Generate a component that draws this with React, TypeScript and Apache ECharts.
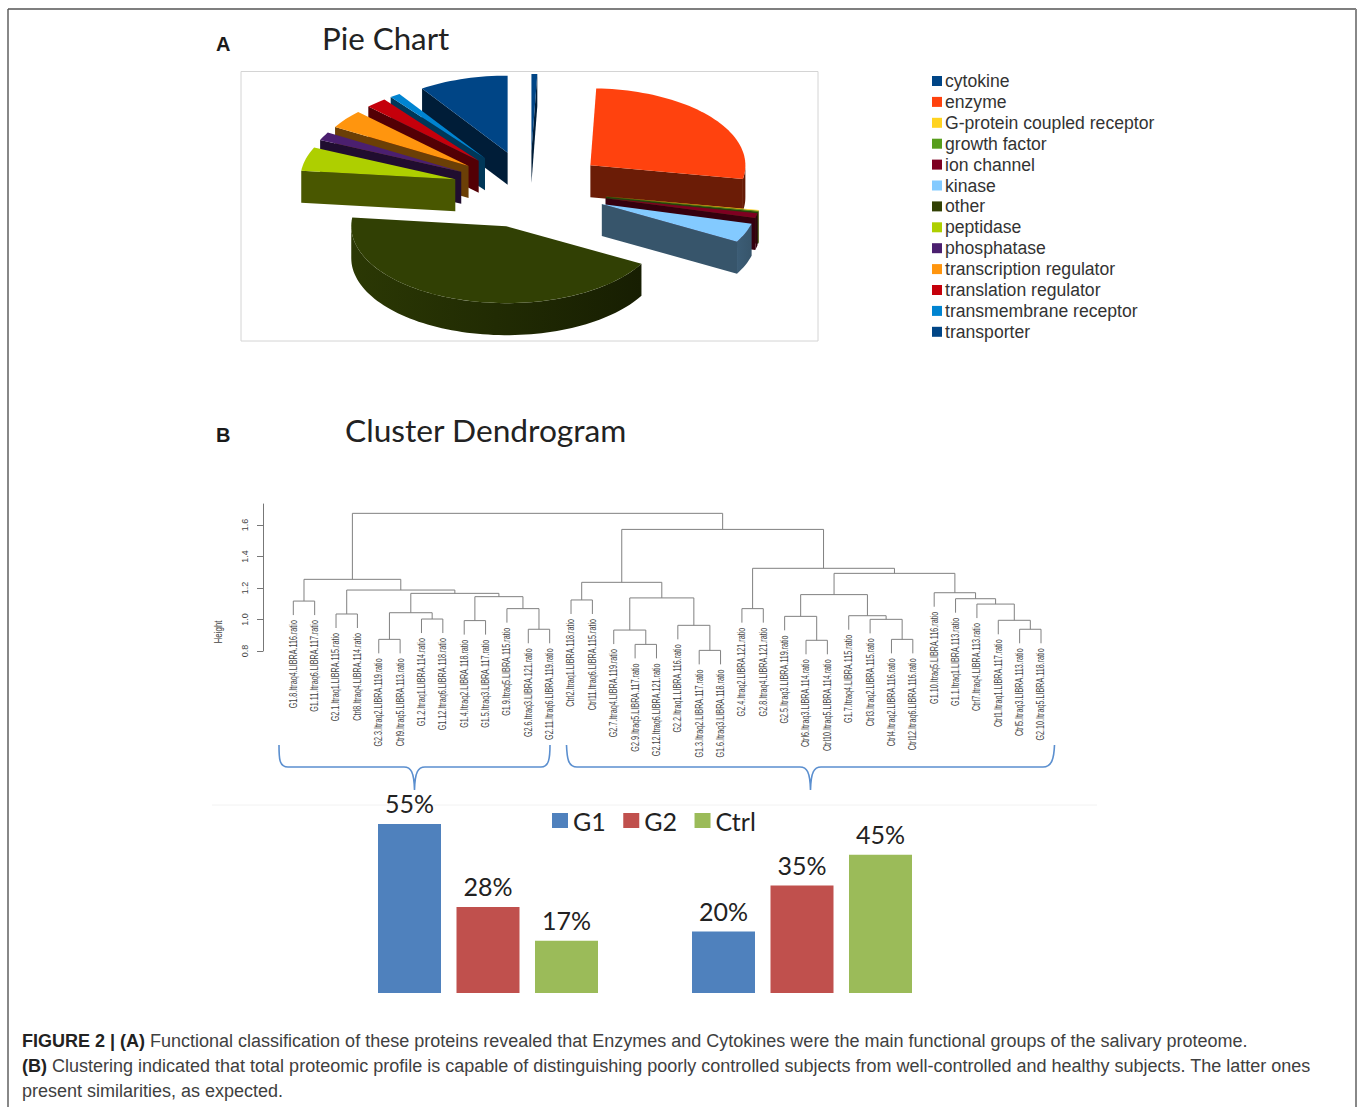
import React, { useEffect, useRef } from "react";
import * as echarts from "echarts";

// ---------- Panel A data ----------
const pieNames = ["cytokine", "enzyme", "G-protein coupled receptor", "growth factor", "ion channel", "kinase", "other", "peptidase", "phosphatase", "transcription regulator", "translation regulator", "transmembrane receptor", "transporter"];
const pieValues = [0.6, 27.2, 0.12, 0.18, 1.0, 4.0, 43.6, 5.0, 1.7, 3.9, 2.2, 1.1, 9.3];
const pieColors = ["#004586", "#ff420e", "#ffd320", "#579d1c", "#7e0021", "#83caff", "#314004", "#aecf00", "#4b1f6f", "#ff950e", "#c5000b", "#0084d1", "#004586"];

// ---------- Panel B dendrogram data (merge table, R hclust style) ----------
const leafLabels = [
  "G1.8.Itraq4.LIBRA.116.ratio", "G1.11.Itraq6.LIBRA.117.ratio", "G2.1.Itraq1.LIBRA.115.ratio", "Ctrl8.Itraq4.LIBRA.114.ratio",
  "G2.3.Itraq2.LIBRA.119.ratio", "Ctrl9.Itraq5.LIBRA.113.ratio", "G1.2.Itraq1.LIBRA.114.ratio", "G1.12.Itraq6.LIBRA.118.ratio",
  "G1.4.Itraq2.LIBRA.118.ratio", "G1.5.Itraq3.LIBRA.117.ratio", "G1.9.Itraq5.LIBRA.115.ratio", "G2.6.Itraq3.LIBRA.121.ratio",
  "G2.11.Itraq6.LIBRA.119.ratio", "Ctrl2.Itraq1.LIBRA.118.ratio", "Ctrl11.Itraq6.LIBRA.115.ratio", "G2.7.Itraq4.LIBRA.119.ratio",
  "G2.9.Itraq5.LIBRA.117.ratio", "G2.12.Itraq6.LIBRA.121.ratio", "G2.2.Itraq1.LIBRA.116.ratio", "G1.3.Itraq2.LIBRA.117.ratio",
  "G1.6.Itraq3.LIBRA.118.ratio", "G2.4.Itraq2.LIBRA.121.ratio", "G2.8.Itraq4.LIBRA.121.ratio", "G2.5.Itraq3.LIBRA.119.ratio",
  "Ctrl6.Itraq3.LIBRA.114.ratio", "Ctrl10.Itraq5.LIBRA.114.ratio", "G1.7.Itraq4.LIBRA.115.ratio", "Ctrl3.Itraq2.LIBRA.115.ratio",
  "Ctrl4.Itraq2.LIBRA.116.ratio", "Ctrl12.Itraq6.LIBRA.116.ratio", "G1.10.Itraq5.LIBRA.116.ratio", "G1.1.Itraq1.LIBRA.113.ratio",
  "Ctrl7.Itraq4.LIBRA.113.ratio", "Ctrl1.Itraq1.LIBRA.117.ratio", "Ctrl5.Itraq3.LIBRA.113.ratio", "G2.10.Itraq5.LIBRA.118.ratio",
];
const mergeLeft = [-1, -3, -5, -7, 3, -9, -12, -11, 6, 5, 2, 1, -14, -17, -16, -20, -19, 15, 13, -22, -25, -24, -29, -28, -27, 22, -35, -34, -33, -32, -31, 26, 20, 19, 12];
const mergeRight = [-2, -4, -6, -8, 4, -10, -13, 7, 8, 9, 10, 11, -15, -18, 14, -21, 16, 17, 18, -23, -26, 21, -30, 23, 24, 25, -36, 27, 28, 29, 30, 31, 32, 33, 34];
const mergeHeight = [1.117, 1.035, 0.874, 1.003, 1.043, 0.993, 0.938, 1.069, 1.145, 1.166, 1.187, 1.255, 1.124, 0.842, 0.933, 0.804, 0.963, 1.137, 1.236, 1.069, 0.868, 1.02, 0.874, 1.001, 1.024, 1.158, 0.938, 0.995, 1.098, 1.132, 1.17, 1.293, 1.325, 1.572, 1.674];
const heightTicks = [0.8, 1.0, 1.2, 1.4, 1.6];

// ---------- Panel B bar data ----------
const groupCategories = ["cluster 1", "cluster 2"];
const barG1 = [55, 20];
const barG2 = [28, 35];
const barCtrl = [17, 45];

// ---------- caption ----------
const captionLines = [
  "{b|FIGURE 2 | (A)} Functional classification of these proteins revealed that Enzymes and Cytokines were the main functional groups of the salivary proteome.",
  "{b|(B)} Clustering indicated that total proteomic profile is capable of distinguishing poorly controlled subjects from well-controlled and healthy subjects. The latter ones",
  "present similarities, as expected.",
];

// ---------- layout ----------
const PIE = { cx: 530, cy: 189.5, rx: 155, ry: 77, depth: 32, explode: 0.5 };
const HANG = 0.089;

echarts.graphic.registerShape("braceLeft", echarts.graphic.extendPath("M279 745 C279 758 279 767 288 767 L404 767 C411 767 414 772 414.5 790 C415 772 418 767 425 767 L541 767 C549 767 550 758 550 745", {}));
echarts.graphic.registerShape("braceRight", echarts.graphic.extendPath("M566.5 745 C567 758 568 767 577 767 L800 767 C807 767 810 772 810.5 790 C811 772 814 767 821 767 L1043 767 C1052 767 1054 758 1054.5 745", {}));

function shade(hex: string, k: number) {
  const n = parseInt(hex.slice(1), 16);
  const ch = (v: number) => Math.round(v * k);
  return `rgb(${ch((n >> 16) & 255)},${ch((n >> 8) & 255)},${ch(n & 255)})`;
}

const rad = (d: number) => (d * Math.PI) / 180;

function buildSlices() {
  const total = pieValues.reduce((a, b) => a + b, 0);
  let acc = 0;
  const out = pieValues.map((v, i) => {
    const a = (acc / total) * 360;
    acc += v;
    const b = (acc / total) * 360;
    const m = rad((a + b) / 2);
    const ax = PIE.cx + PIE.explode * PIE.rx * Math.sin(m);
    const ay = PIE.cy - PIE.explode * PIE.ry * Math.cos(m);
    return { i, a, b, ax, ay };
  });
  return out.sort((p, q) => p.ay - q.ay);
}

function sliceItem(s: any) {
  const color = pieColors[s.i];
  const side = shade(color, 0.42);
  const pt = (deg: number): number[] => [s.ax + PIE.rx * Math.sin(rad(deg)), s.ay - PIE.ry * Math.cos(rad(deg))];
  const arc = (from: number, to: number) => {
    const n = Math.max(2, Math.ceil((to - from) / 2));
    const pts: number[][] = [];
    for (let k = 0; k <= n; k++) pts.push(pt(from + ((to - from) * k) / n));
    return pts;
  };
  const A = [s.ax, s.ay];
  const mid = pt((s.a + s.b) / 2);
  const children: any[] = [];
  const wall = (P: number[]) => {
    const nx = -(P[1] - A[1]);
    const ny = P[0] - A[0];
    const d = nx * (mid[0] - A[0]) + ny * (mid[1] - A[1]);
    const outY = d > 0 ? -ny : ny;
    if (outY <= 0) return;
    children.push({
      type: "polygon",
      shape: { points: [A, P, [P[0], P[1] + PIE.depth], [A[0], A[1] + PIE.depth]] },
      style: { fill: side },
    });
  };
  wall(pt(s.a));
  wall(pt(s.b));
  const from = Math.max(s.a, 90);
  const to = Math.min(s.b, 270);
  if (to > from) {
    const top = arc(from, to);
    const bottom = top.map((p) => [p[0], p[1] + PIE.depth]).reverse();
    const k = (deg: number) => 0.38 + ((deg - 90) / 180) * 0.5;
    children.push({
      type: "polygon",
      shape: { points: top.concat(bottom) },
      style: { fill: new echarts.graphic.LinearGradient(0, 0, 1, 0, [{ offset: 0, color: shade(color, k(to)) }, { offset: 1, color: shade(color, k(from)) }]) },
    });
  }
  children.push({ type: "polygon", shape: { points: [A, ...arc(s.a, s.b)] }, style: { fill: color } });
  return { type: "group", children };
}

function buildTree() {
  const nodeX: number[] = [];
  const xOf = (id: number) => (id < 0 ? -id - 1 : nodeX[id - 1]);
  const hOf = (id: number, parent: number) => (id < 0 ? parent - HANG : mergeHeight[id - 1]);
  const rows: number[][] = [];
  mergeHeight.forEach((h, i) => {
    const xl = xOf(mergeLeft[i]);
    const xr = xOf(mergeRight[i]);
    nodeX.push((xl + xr) / 2);
    rows.push([xl, xr, h, hOf(mergeLeft[i], h), hOf(mergeRight[i], h)]);
  });
  const leafParent: number[] = leafLabels.map(() => 0);
  mergeHeight.forEach((h, i) => {
    if (mergeLeft[i] < 0) leafParent[-mergeLeft[i] - 1] = h;
    if (mergeRight[i] < 0) leafParent[-mergeRight[i] - 1] = h;
  });
  return { rows, leaves: leafParent.map((h, i) => [i, h - HANG]) };
}

export default function App() {
  const ref = useRef<HTMLDivElement>(null);
  useEffect(() => {
    document.body.style.margin = "0";
    const chart = echarts.init(ref.current!, undefined, { renderer: "svg" });
    const tree = buildTree();
    const sansBody = "Liberation Sans";
    const pieSeries = buildSlices().map((s) => ({
      type: "custom",
      name: pieNames[s.i],
      coordinateSystem: "none",
      silent: true,
      itemStyle: { color: pieColors[s.i] },
      data: [[pieValues[s.i]]],
      renderItem: () => sliceItem(s),
    }));
    const barLabel = { show: true, position: "top", distance: 8, formatter: "{c}%", fontFamily: "Lato", fontSize: 25, color: "#222" };
    chart.setOption({
      animation: false,
      backgroundColor: "#fff",
      title: [
        { text: "Pie Chart", left: 317, top: 17, textStyle: { fontFamily: "Lato", fontWeight: "normal", fontSize: 31.3, color: "#222" } },
        { text: "Cluster Dendrogram", left: 340, top: 409, textStyle: { fontFamily: "Lato", fontWeight: "normal", fontSize: 31.7, color: "#222" } },
      ],
      legend: [
        {
          data: pieNames, orient: "vertical", left: 927, top: 67, icon: "rect", itemWidth: 10, itemHeight: 10, itemGap: 2.9, selectedMode: false,
          textStyle: { fontFamily: sansBody, fontSize: 17.6, color: "#333", padding: [0, 0, 0, -2] },
        },
        {
          data: ["G1", "G2", "Ctrl"], orient: "horizontal", left: 547, top: 803, icon: "rect", itemWidth: 16, itemHeight: 15, itemGap: 17.5, selectedMode: false,
          textStyle: { fontFamily: "Lato", fontSize: 25, color: "#222" },
        },
      ],
      grid: [
        { left: 263, top: 504, width: 1041 - 263, height: 147 },
        { left: 331, top: 808.5, width: 628, height: 184.5 },
      ],
      xAxis: [
        { type: "value", gridIndex: 0, min: -1.4185, max: 35, show: false },
        { type: "category", gridIndex: 1, data: groupCategories, show: false },
      ],
      yAxis: [
        {
          type: "value", gridIndex: 0, min: 0.8, max: 1.7333, splitLine: { show: false },
          axisLine: { show: true, onZero: false, lineStyle: { color: "#777", width: 1 } },
          axisTick: { show: true, length: 6, customValues: heightTicks, lineStyle: { color: "#777" } },
          axisLabel: { show: true, customValues: heightTicks, rotate: 90, margin: 14, fontFamily: sansBody, fontSize: 9, color: "#444", formatter: (v: number) => v.toFixed(1) },
        },
        { type: "value", gridIndex: 1, min: 0, max: 60, show: false },
      ],
      series: [
        ...pieSeries,
        {
          type: "custom", xAxisIndex: 0, yAxisIndex: 0, silent: true, clip: false,
          data: tree.rows, encode: { x: [0, 1], y: [2, 3, 4] },
          renderItem: (_p: any, api: any) => {
            const a = api.coord([api.value(0), api.value(3)]);
            const b = api.coord([api.value(0), api.value(2)]);
            const c = api.coord([api.value(1), api.value(2)]);
            const d = api.coord([api.value(1), api.value(4)]);
            return { type: "polyline", shape: { points: [a, b, c, d] }, style: { fill: "none", stroke: "#808080", lineWidth: 1 } };
          },
        },
        {
          type: "custom", xAxisIndex: 0, yAxisIndex: 0, silent: true, clip: false,
          data: tree.leaves, encode: { x: 0, y: 1 },
          renderItem: (p: any, api: any) => {
            const at = api.coord([api.value(0), api.value(1)]);
            return {
              type: "text", x: at[0], y: at[1] + 5, rotation: Math.PI / 2, scaleX: 0.72,
              style: { text: leafLabels[p.dataIndex], align: "right", verticalAlign: "middle", font: "10px 'Liberation Sans'", fill: "#444" },
            };
          },
        },
        { type: "bar", name: "G1", xAxisIndex: 1, yAxisIndex: 1, data: barG1, barWidth: 63, barGap: "24.6%", itemStyle: { color: "#4f81bd" }, label: barLabel },
        { type: "bar", name: "G2", xAxisIndex: 1, yAxisIndex: 1, data: barG2, barWidth: 63, itemStyle: { color: "#c0504d" }, label: barLabel },
        { type: "bar", name: "Ctrl", xAxisIndex: 1, yAxisIndex: 1, data: barCtrl, barWidth: 63, itemStyle: { color: "#9bbb59" }, label: barLabel },
      ],
      graphic: [
        { type: "polyline", shape: { points: [[8, 1107], [8, 9]] }, style: { fill: "none", stroke: "#888", lineWidth: 2 } },
        { type: "polyline", shape: { points: [[8, 9], [1356, 9]] }, style: { fill: "none", stroke: "#555", lineWidth: 1.5 } },
        { type: "polyline", shape: { points: [[1356, 9], [1356, 1107]] }, style: { fill: "none", stroke: "#888", lineWidth: 2 } },
        { type: "rect", shape: { x: 241, y: 71.5, width: 577, height: 269.5 }, style: { fill: "#fff", stroke: "#d4d4d4", lineWidth: 1 } },
        { type: "line", shape: { x1: 212, y1: 805, x2: 1097, y2: 805 }, style: { stroke: "#f2f2f2", lineWidth: 1 } },
        { type: "braceLeft", x: 0, y: 0, style: { fill: "none", stroke: "#5b8fcf", lineWidth: 1.6 } },
        { type: "braceRight", x: 0, y: 0, style: { fill: "none", stroke: "#5b8fcf", lineWidth: 1.6 } },
        { type: "text", x: 216, y: 44, style: { text: "A", font: "bold 20px 'Liberation Sans'", fill: "#1a1a1a", verticalAlign: "middle" } },
        { type: "text", x: 216, y: 435, style: { text: "B", font: "bold 20px 'Liberation Sans'", fill: "#1a1a1a", verticalAlign: "middle" } },
        { type: "text", x: 219, y: 632, rotation: Math.PI / 2, scaleX: 0.8, style: { text: "Height", align: "center", verticalAlign: "middle", font: "10px 'Liberation Sans'", fill: "#444" } },
        ...captionLines.map((t, i) => ({
          type: "text", x: 22, y: 1041 + i * 25,
          style: {
            text: t, verticalAlign: "middle", font: "18px 'Liberation Sans'", fill: "#404040",
            rich: { b: { font: "bold 18px 'Liberation Sans'", fill: "#222" } },
          },
        })),
      ],
    });
    return () => chart.dispose();
  }, []);
  return <div ref={ref} style={{ position: "absolute", left: 0, top: 0, width: 1360, height: 1107 }} />;
}
